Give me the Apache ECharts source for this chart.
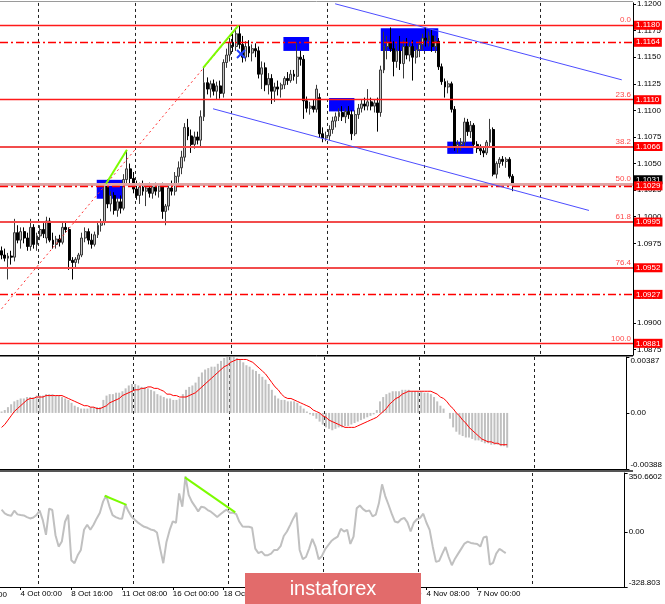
<!DOCTYPE html>
<html><head><meta charset="utf-8">
<script src="https://cdn.jsdelivr.net/npm/echarts@6/dist/echarts.min.js"></script>
<style>html,body{margin:0;padding:0;background:#fff}#c{width:665px;height:604px}</style>
</head><body><div id="c"></div>
<script>
// ---- DATA (EURUSD H4) ----
// rows: [open, high, low, close]
const ohlc = [
[1.0968,1.0972,1.0960,1.0964],[1.0964,1.0970,1.0958,1.0961],[1.0961,1.0966,1.0941,1.0963],[1.0963,1.0968,1.0955,1.0962],[1.0962,1.0998,1.0958,1.0985],
[1.0985,1.0992,1.0975,1.0978],[1.0978,1.0990,1.0970,1.0986],[1.0986,1.0990,1.0975,1.0980],[1.0980,1.0985,1.0968,1.0972],[1.0972,1.0998,1.0968,1.0990],
[1.0990,1.0993,1.0970,1.0974],[1.0974,1.0985,1.0968,1.0982],[1.0982,1.0992,1.0978,1.0988],[1.0988,1.0994,1.0980,1.0984],[1.0980,1.1000,1.0975,1.0996],
[1.0996,1.0999,1.0976,1.0978],[1.0978,1.0985,1.0970,1.0974],[1.0974,1.0982,1.0970,1.0979],[1.0979,1.0983,1.0972,1.0976],[1.0976,1.0995,1.0974,1.0990],
[1.0990,1.0996,1.0985,1.0988],[1.0988,1.0990,1.0950,1.0959],[1.0959,1.0962,1.0941,1.0957],[1.0957,1.0962,1.0952,1.0960],[1.0960,1.0966,1.0956,1.0964],
[1.0964,1.0985,1.0962,1.0980],[1.0980,1.0990,1.0976,1.0986],[1.0986,1.0989,1.0974,1.0978],[1.0978,1.0984,1.0970,1.0974],[1.0974,1.0986,1.0972,1.0983],
[1.0983,1.0996,1.0980,1.0992],[1.0992,1.0998,1.0986,1.0995],[1.0995,1.1032,1.0992,1.1030],[1.1030,1.1035,1.1008,1.1012],[1.1012,1.1024,1.1005,1.1020],
[1.1020,1.1023,1.1002,1.1006],[1.1006,1.1018,1.1000,1.1014],[1.1014,1.1020,1.1003,1.1008],[1.1008,1.1040,1.1006,1.1035],[1.1035,1.1062,1.1030,1.1045],
[1.1045,1.1050,1.1030,1.1036],[1.1036,1.1042,1.1022,1.1026],[1.1026,1.1034,1.1016,1.1020],[1.1020,1.1032,1.1012,1.1028],[1.1028,1.1034,1.1020,1.1024],
[1.1024,1.1030,1.1010,1.1027],[1.1027,1.1032,1.1018,1.1022],[1.1022,1.1030,1.1017,1.1028],[1.1028,1.1032,1.1020,1.1024],[1.1024,1.1031,1.1018,1.1029],
[1.1029,1.1032,1.0998,1.1005],[1.1005,1.1012,1.0992,1.1010],[1.1010,1.1030,1.1006,1.1027],[1.1027,1.1034,1.1020,1.1024],[1.1024,1.1042,1.1020,1.1038],
[1.1038,1.1052,1.1032,1.1046],[1.1046,1.1062,1.1040,1.1056],[1.1056,1.1088,1.1052,1.1084],[1.1084,1.1092,1.1072,1.1076],[1.1076,1.1082,1.1060,1.1068],
[1.1068,1.1080,1.1064,1.1075],[1.1075,1.1080,1.1068,1.1072],[1.1072,1.1100,1.1066,1.1094],[1.1094,1.1140,1.1090,1.1126],[1.1126,1.1131,1.1115,1.1120],
[1.1120,1.1128,1.1112,1.1125],[1.1125,1.1129,1.1114,1.1118],[1.1118,1.1127,1.1110,1.1123],[1.1123,1.1128,1.1111,1.1116],[1.1116,1.1148,1.1112,1.1145],
[1.1145,1.1158,1.1140,1.1152],[1.1152,1.1168,1.1146,1.1164],[1.1164,1.1172,1.1155,1.1160],[1.1160,1.1176,1.1156,1.1172],[1.1172,1.1180,1.1158,1.1162],
[1.1162,1.1170,1.1145,1.1150],[1.1150,1.1165,1.1146,1.1160],[1.1160,1.1166,1.1150,1.1154],[1.1154,1.1162,1.1146,1.1158],[1.1158,1.1163,1.1150,1.1156],
[1.1156,1.1160,1.1130,1.1134],[1.1134,1.1146,1.1120,1.1140],[1.1140,1.1145,1.1118,1.1124],[1.1124,1.1135,1.1115,1.1130],[1.1130,1.1134,1.1106,1.1118],
[1.1118,1.1126,1.1108,1.1122],[1.1122,1.1128,1.1114,1.1120],[1.1120,1.1126,1.1112,1.1124],[1.1124,1.1132,1.1120,1.1130],[1.1130,1.1136,1.1124,1.1128],
[1.1128,1.1138,1.1126,1.1134],[1.1134,1.1138,1.1128,1.1132],[1.1132,1.1164,1.1125,1.1150],[1.1150,1.1156,1.1142,1.1148],[1.1148,1.1152,1.1092,1.1109],
[1.1109,1.1113,1.1098,1.1102],[1.1102,1.1108,1.1096,1.1104],[1.1104,1.1110,1.1098,1.1101],[1.1101,1.1124,1.1098,1.1120],[1.1112,1.1116,1.1074,1.1078],
[1.1078,1.1084,1.1070,1.1074],[1.1074,1.1080,1.1071,1.1076],[1.1076,1.1086,1.1072,1.1082],[1.1082,1.1094,1.1078,1.1090],[1.1090,1.1098,1.1084,1.1094],
[1.1094,1.1102,1.1090,1.1098],[1.1098,1.1104,1.1090,1.1094],[1.1094,1.1102,1.1088,1.1099],[1.1099,1.1104,1.1092,1.1096],[1.1096,1.1100,1.1072,1.1078],
[1.1078,1.1100,1.1076,1.1096],[1.1096,1.1106,1.1092,1.1102],[1.1102,1.1110,1.1098,1.1106],[1.1106,1.1112,1.1100,1.1104],[1.1104,1.1120,1.1100,1.1108],
[1.1108,1.1112,1.1100,1.1104],[1.1104,1.1110,1.1098,1.1107],[1.1107,1.1112,1.1080,1.1098],[1.1098,1.1142,1.1094,1.1138],[1.1138,1.1174,1.1135,1.1160],
[1.1160,1.1170,1.1148,1.1164],[1.1164,1.1178,1.1155,1.1158],[1.1158,1.1165,1.1132,1.1146],[1.1146,1.1162,1.1140,1.1156],[1.1156,1.1170,1.1138,1.1144],
[1.1144,1.1166,1.1130,1.1160],[1.1160,1.1168,1.1148,1.1152],[1.1152,1.1164,1.1146,1.1160],[1.1160,1.1166,1.1128,1.1150],[1.1150,1.1160,1.1144,1.1157],
[1.1157,1.1166,1.1150,1.1162],[1.1162,1.1172,1.1156,1.1168],[1.1168,1.1178,1.1160,1.1166],[1.1166,1.1174,1.1160,1.1170],[1.1170,1.1176,1.1155,1.1160],
[1.1160,1.1170,1.1154,1.1165],[1.1165,1.1168,1.1138,1.1141],[1.1141,1.1144,1.1124,1.1127],[1.1127,1.1130,1.1112,1.1122],[1.1122,1.1128,1.1116,1.1125],
[1.1125,1.1127,1.1098,1.1101],[1.1101,1.1104,1.1062,1.1066],[1.1066,1.1072,1.1060,1.1068],[1.1068,1.1074,1.1062,1.1070],[1.1070,1.1093,1.1066,1.1089],
[1.1089,1.1092,1.1076,1.1080],[1.1080,1.1090,1.1074,1.1086],[1.1086,1.1088,1.1066,1.1068],[1.1068,1.1071,1.1060,1.1064],[1.1064,1.1068,1.1058,1.1062],
[1.1062,1.1066,1.1056,1.1060],[1.1060,1.1072,1.1058,1.1070],[1.1070,1.1092,1.1066,1.1082],[1.1082,1.1084,1.1038,1.1040],[1.1040,1.1052,1.1036,1.1050],
[1.1050,1.1056,1.1046,1.1054],[1.1054,1.1057,1.1048,1.1052],[1.1052,1.1056,1.1046,1.1054],[1.1054,1.1056,1.1036,1.1038],[1.1038,1.1040,1.1024,1.1030]
];
const macdHist = [
0.0001,0.0002,0.0004,0.0006,0.0008,0.0009,0.0010,0.0010,0.0011,0.0011,
0.0011,0.0012,0.0012,0.0012,0.0013,0.0013,0.0013,0.0012,0.0012,0.0011,
0.0010,0.0009,0.0007,0.0005,0.0004,0.0003,0.0003,0.0003,0.0004,0.0004,
0.0004,0.0004,0.0009,0.0012,0.0013,0.0013,0.0014,0.0014,0.0015,0.0017,
0.0019,0.0020,0.0020,0.0019,0.0018,0.0018,0.0017,0.0016,0.0015,0.0013,
0.0012,0.0011,0.0010,0.0010,0.0009,0.0009,0.0010,0.0013,0.0016,0.0018,
0.0019,0.0021,0.0025,0.0028,0.0030,0.0031,0.0032,0.0032,0.0034,0.0036,
0.0038,0.0039,0.0039,0.0039,0.0038,0.0037,0.0035,0.0033,0.0032,0.0030,
0.0029,0.0027,0.0025,0.0023,0.0020,0.0016,0.0012,0.0010,0.0009,0.0009,
0.0008,0.0008,0.0008,0.0007,0.0005,0.0003,0.0001,-0.0001,-0.0002,-0.0004,
-0.0006,-0.0008,-0.0010,-0.0011,-0.0012,-0.0011,-0.0010,-0.0010,-0.0009,-0.0009,
-0.0008,-0.0007,-0.0006,-0.0005,-0.0004,-0.0003,-0.0002,-0.0001,0.0002,0.0008,
0.0011,0.0013,0.0014,0.0015,0.0015,0.0015,0.0016,0.0016,0.0016,0.0015,
0.0015,0.0015,0.0015,0.0014,0.0014,0.0013,0.0011,0.0008,0.0005,0.0003,
0.0000,-0.0004,-0.0010,-0.0013,-0.0015,-0.0016,-0.0017,-0.0017,-0.0018,-0.0019,
-0.0019,-0.0020,-0.0021,-0.0021,-0.0022,-0.0022,-0.0022,-0.0023,-0.0023,-0.0024
];
const macdSignal = [
-0.0010,-0.0008,-0.0005,-0.0002,0.0001,0.0003,0.0005,0.0007,0.0009,0.0010,
0.0010,0.0011,0.0011,0.0011,0.0012,0.0012,0.0012,0.0012,0.0012,0.0012,
0.0011,0.0010,0.0009,0.0008,0.0007,0.0006,0.0005,0.0005,0.0004,0.0004,
0.0003,0.0003,0.0004,0.0005,0.0007,0.0008,0.0009,0.0010,0.0012,0.0013,
0.0014,0.0015,0.0016,0.0016,0.0017,0.0017,0.0018,0.0018,0.0017,0.0017,
0.0016,0.0015,0.0013,0.0013,0.0012,0.0012,0.0011,0.0011,0.0011,0.0012,
0.0013,0.0014,0.0016,0.0018,0.0020,0.0022,0.0024,0.0026,0.0028,0.0030,
0.0032,0.0033,0.0035,0.0036,0.0037,0.0037,0.0037,0.0037,0.0036,0.0035,
0.0033,0.0031,0.0029,0.0027,0.0024,0.0021,0.0018,0.0016,0.0013,0.0011,
0.0010,0.0010,0.0009,0.0008,0.0007,0.0006,0.0005,0.0004,0.0002,0.0001,
0.0000,-0.0002,-0.0003,-0.0005,-0.0006,-0.0007,-0.0008,-0.0009,-0.0010,-0.0010,
-0.0010,-0.0010,-0.0009,-0.0008,-0.0007,-0.0006,-0.0005,-0.0004,-0.0003,-0.0001,
0.0001,0.0003,0.0006,0.0008,0.0010,0.0011,0.0013,0.0014,0.0015,0.0015,
0.0015,0.0015,0.0015,0.0015,0.0015,0.0015,0.0014,0.0013,0.0011,0.0010,
0.0008,0.0005,0.0003,0.0000,-0.0002,-0.0005,-0.0007,-0.0010,-0.0012,-0.0014,
-0.0016,-0.0018,-0.0019,-0.0020,-0.0020,-0.0021,-0.0021,-0.0022,-0.0022,-0.0022
];
const cci = [
132,110,100,95,126,104,100,98,88,80,
85,100,126,70,-18,138,130,-20,-88,-58,
60,102,-169,-187,-140,-108,12,42,12,42,
80,114,180,217,152,100,88,80,78,163,
122,90,72,55,42,30,24,14,10,-4,
-100,-187,-60,10,62,54,229,150,330,220,
180,152,122,150,145,130,120,105,89,105,
120,132,114,114,105,60,32,30,30,24,
-100,-127,-118,-139,-139,-130,-108,-108,-85,-25,
2,40,80,114,-108,-163,-150,-100,-42,-88,
-163,-145,-105,-80,-55,-40,-28,18,2,12,
-72,-28,140,157,135,122,128,92,102,170,
283,213,163,110,62,56,75,83,56,2,
54,75,83,108,54,12,-90,-179,-173,-130,
-90,-150,-199,-160,-130,-100,-70,-58,-66,-70,
-72,-88,-34,-28,-195,-185,-130,-102,-114,-127
];
const priceTicks = [1.0875,1.0900,1.0925,1.0950,1.0975,1.1000,1.1025,1.1050,1.1075,1.1100,1.1125,1.1150,1.1175,1.1200];
const macdTicks = [-0.00388, 0, 0.00387];
const macdTickLabels = ['-0.00388', '0.00', '0.00387'];
const cciTicks = [-328.803, 0, 350.6602];
const cciTickLabels = ['-328.803', '0.00', '350.6602'];
const timeLabels = ['4 Oct 00:00','8 Oct 16:00','11 Oct 08:00','16 Oct 00:00','18 Oct 16:00','23 Oct 08:00','28 Oct 00:00','30 Oct 16:00','4 Nov 08:00','7 Nov 00:00'];
const timeLabelBars = [6,22,38,54,70,86,102,118,134,150];
const gridBars = [12,42,72,102,132,168];
const fibLevels = [1.1180, 1.1110, 1.1066, 1.10305, 1.0995, 1.0952, 1.0881];
const fibNames = ['0.0','23.6','38.2','50.0','61.8','76.4','100.0'];
const fibBoxes = [true, true, true, false, true, true, true];
const dashLevels = [1.1164, 1.1029, 1.0927];
const bidPrice = 1.1031;
const fibLine = [[-9, 1.0881], [74, 1.1180]];
const greenPrice = [[[32.5, 1.1031], [39, 1.1063]], [[62.7, 1.1140], [73.7, 1.1180]]];
const greenCci = [[[32.5, 215], [39.4, 161]], [[57.8, 325], [73.7, 116]]];
const channel = [[[103.8, 1.12002], [193, 1.11287]], [[65.8, 1.11015], [182.8, 1.10059]]];
const zones = [[29.6,37.7,1.10347,1.10169],[87.7,95.7,1.11690,1.11559],[101.9,109.8,1.11116,1.10990],[118,135.9,1.11772,1.11559],[138.7,146.8,1.10706,1.10591]];
const crossMark = [[74.5, 1.1153]];

// ---- CHART ----
const N = 197;
const cats = Array.from({length: N}, (_, i) => String(i));
const FONT = 'Liberation Sans';

function catAxis(grid, withLabels) {
  return {
    type: 'category', gridIndex: grid, data: cats, boundaryGap: true,
    axisLine: {show: true, onZero: false, lineStyle: {color: '#000', width: 1}},
    axisTick: withLabels ? {show: true, alignWithLabel: true, length: 3, interval: (i) => timeLabelBars.includes(i), lineStyle: {color: '#000'}} : {show: false},
    axisLabel: withLabels ? {
      show: true, interval: (i) => timeLabelBars.includes(i), align: 'left', margin: 3,
      fontSize: 8, fontFamily: FONT, color: '#000',
      formatter: (v, i) => { const k = timeLabelBars.indexOf(i); return k >= 0 ? timeLabels[k] : ''; }
    } : {show: false},
    splitLine: {show: true, interval: (i) => gridBars.includes(i), lineStyle: {color: '#222', type: [3, 3], width: 1}}
  };
}
function hiddenX(grid) { return {type: 'value', gridIndex: grid, min: -0.5, max: N - 0.5, show: false}; }
function rightY(grid, min, max, ticks, fmt, labelExtra) {
  return {
    type: 'value', gridIndex: grid, position: 'right', min: min, max: max, scale: true,
    axisLine: {show: true, onZero: false, lineStyle: {color: '#000'}},
    axisTick: {show: true, length: 3, customValues: ticks, lineStyle: {color: '#000'}},
    axisLabel: Object.assign({show: true, customValues: ticks, formatter: fmt, fontSize: 8, fontFamily: FONT, color: '#000', margin: 4}, labelExtra || {}),
    splitLine: {show: false}
  };
}
function boxLabel(v, bg, extra) {
  return Object.assign({show: true, position: 'end', distance: 1, formatter: v.toFixed(4), backgroundColor: bg, color: '#fff', fontSize: 8, fontFamily: FONT, padding: [1, 2, 0, 2]}, extra || {});
}

const mlData = [];
mlData.push({yAxis: bidPrice, lineStyle: {color: '#c8c8c8', width: 1, type: 'solid'}, label: boxLabel(bidPrice, '#000', {offset: [0, -4]})});
fibLevels.forEach((v, k) => {
  const thick = (k >= 2 && k <= 5);
  mlData.push({
    yAxis: v,
    lineStyle: {color: k === 3 ? '#e0a4a4' : (thick ? '#f24c4c' : '#ff1a1a'), width: k === 3 ? 3 : (thick ? 2 : 1.3), type: 'solid'},
    label: fibBoxes[k] ? boxLabel(v, '#ff0000') : {show: false}
  });
});
dashLevels.forEach(v => mlData.push({yAxis: v, lineStyle: {color: '#ff0000', width: 1.3, type: [8, 3, 2, 3]}, label: boxLabel(v, '#ff0000')}));

const series = [];
series.push({
  type: 'custom', xAxisIndex: 1, yAxisIndex: 0, z: 1, silent: true,
  data: zones, encode: {x: [0, 1], y: [2, 3]},
  renderItem: (params, api) => {
    const a = api.coord([api.value(0), api.value(2)]);
    const b = api.coord([api.value(1), api.value(3)]);
    return {type: 'rect', shape: {x: a[0], y: a[1], width: b[0] - a[0], height: b[1] - a[1]}, style: {fill: '#0000ff'}};
  }
});
series.push({
  type: 'candlestick', xAxisIndex: 0, yAxisIndex: 0, z: 3, barWidth: 2.4, clip: false,
  data: ohlc.map(r => [r[0], r[3], r[2], r[1]]),
  itemStyle: {color: '#c4c4c4', borderColor: '#3a3a3a', color0: '#000', borderColor0: '#000', borderWidth: 1},
  markLine: {silent: true, symbol: ['none', 'none'], precision: 6, animation: false, data: mlData}
});
series.push({
  type: 'custom', xAxisIndex: 1, yAxisIndex: 0, z: 6, silent: true,
  data: fibLevels.map((v, k) => [k, v]), encode: {y: 1},
  renderItem: (params, api) => {
    const k = api.value(0);
    const p = api.coord([N - 0.5, api.value(1)]);
    return {type: 'text', x: p[0] - 2, y: p[1] - 1, style: {text: fibNames[k], fill: '#ff4a4a', font: '8px "Liberation Sans"', textAlign: 'right', textVerticalAlign: 'bottom'}};
  }
});
series.push({type: 'line', xAxisIndex: 1, yAxisIndex: 0, z: 4, data: fibLine, symbol: 'none', lineStyle: {color: '#ff3030', width: 1, type: [2, 3]}});
greenPrice.forEach(d => series.push({type: 'line', xAxisIndex: 1, yAxisIndex: 0, z: 5, data: d, symbol: 'none', lineStyle: {color: '#7cfc00', width: 2}}));
channel.forEach(d => series.push({type: 'line', xAxisIndex: 1, yAxisIndex: 0, z: 5, data: d, symbol: 'none', lineStyle: {color: '#4d4dff', width: 1}}));
series.push({
  type: 'custom', xAxisIndex: 1, yAxisIndex: 0, z: 6, data: crossMark,
  renderItem: (params, api) => {
    const c = api.coord([api.value(0), api.value(1)]);
    const s = 4;
    return {type: 'group', children: [
      {type: 'line', shape: {x1: c[0] - s, y1: c[1] - s, x2: c[0] + s, y2: c[1] + s}, style: {stroke: '#1f3fff', lineWidth: 2}},
      {type: 'line', shape: {x1: c[0] - s, y1: c[1] + s, x2: c[0] + s, y2: c[1] - s}, style: {stroke: '#1f3fff', lineWidth: 2}}
    ]};
  }
});
series.push({type: 'bar', xAxisIndex: 2, yAxisIndex: 1, data: macdHist, barWidth: 2, itemStyle: {color: '#c0c0c0'}});
series.push({type: 'line', xAxisIndex: 2, yAxisIndex: 1, data: macdSignal, symbol: 'none', lineStyle: {color: '#ff0000', width: 1}, z: 4});
series.push({type: 'line', xAxisIndex: 3, yAxisIndex: 2, data: cci, symbol: 'none', lineStyle: {color: '#c0c0c0', width: 2}});
greenCci.forEach(d => series.push({type: 'line', xAxisIndex: 4, yAxisIndex: 2, z: 5, data: d, symbol: 'none', lineStyle: {color: '#7cfc00', width: 2}}));

const edgeAlign = {verticalAlignMaxLabel: 'top', verticalAlignMinLabel: 'bottom'};
const option = {
  animation: false,
  backgroundColor: '#ffffff',
  grid: [
    {left: 0, right: 32, top: 2, height: 353},
    {left: 0, right: 32, top: 357, height: 112},
    {left: 0, right: 32, top: 473, height: 114}
  ],
  xAxis: [catAxis(0, false), hiddenX(0), catAxis(1, false), catAxis(2, true), hiddenX(2)],
  yAxis: [
    rightY(0, 1.0870, 1.1201, priceTicks, v => v.toFixed(4)),
    rightY(1, -0.00388, 0.00387, macdTicks, v => macdTickLabels[macdTicks.indexOf(v)] || '', edgeAlign),
    rightY(2, -328.803, 350.6602, cciTicks, v => cciTickLabels[cciTicks.indexOf(v)] || '', edgeAlign)
  ],
  series: series,
  graphic: [
    {type: 'line', shape: {x1: 0, y1: 1.5, x2: 633, y2: 1.5}, style: {stroke: '#9a9a9a', lineWidth: 1}, z: 50},
    {type: 'line', shape: {x1: 0, y1: 356, x2: 633, y2: 356}, style: {stroke: '#000', lineWidth: 1}, z: 50},
    {type: 'line', shape: {x1: 0, y1: 471, x2: 633, y2: 471}, style: {stroke: '#555', lineWidth: 2}, z: 50},
    {type: 'text', x: 7, y: 595, style: {text: '1 Oct 16:00', fill: '#000', font: '8px "Liberation Sans"', textAlign: 'right', textVerticalAlign: 'middle'}, z: 50},
    {type: 'rect', shape: {x: 245, y: 573, width: 176, height: 32}, style: {fill: '#e26b6b'}, z: 100},
    {type: 'text', x: 333, y: 589, style: {text: 'instaforex', fill: '#ffffff', font: '20px "Liberation Sans"', textAlign: 'center', textVerticalAlign: 'middle'}, z: 101}
  ]
};
const chart = echarts.init(document.getElementById('c'));
chart.setOption(option);
</script>
</body></html>
